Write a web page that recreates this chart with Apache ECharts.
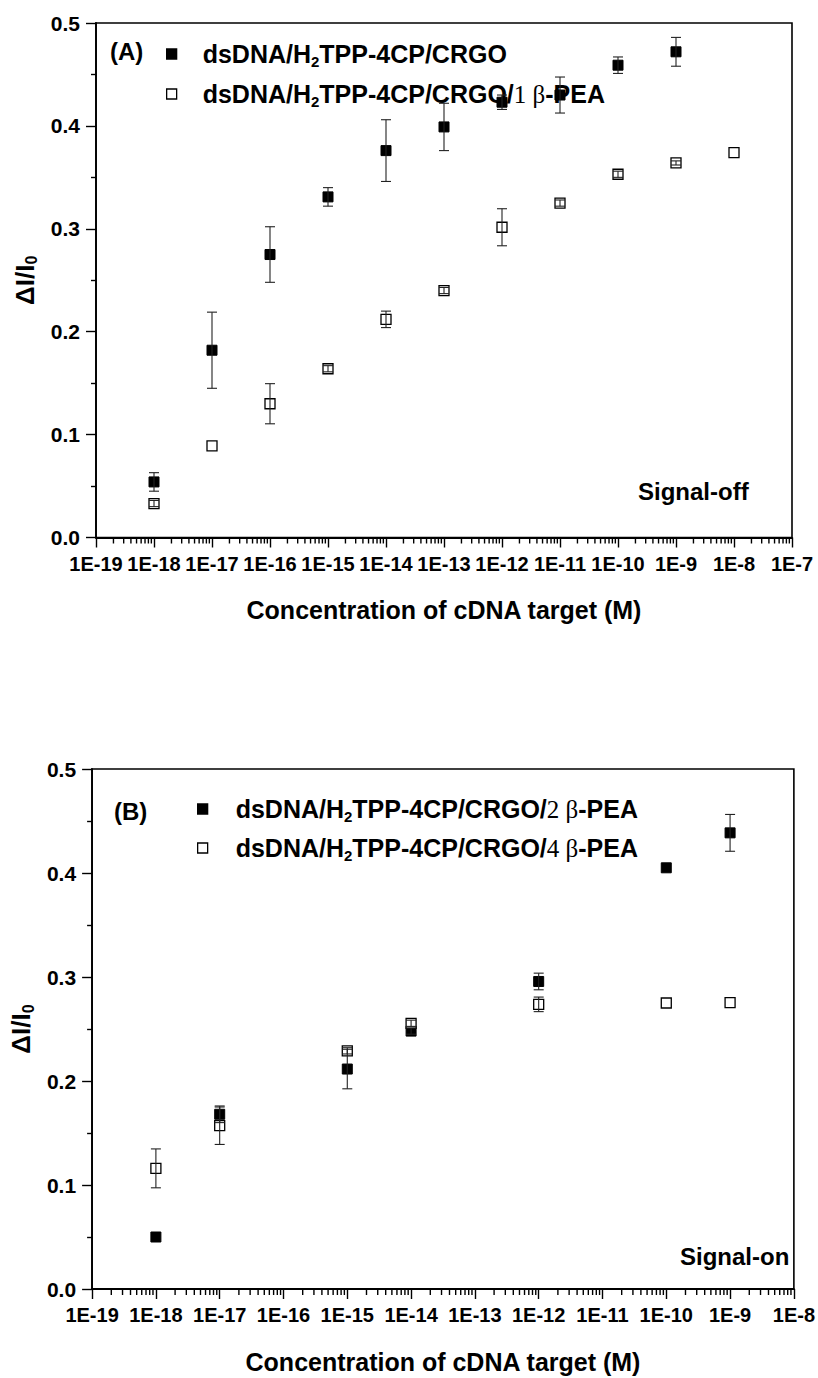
<!DOCTYPE html>
<html><head><meta charset="utf-8">
<script src="https://cdn.jsdelivr.net/npm/echarts@6/dist/echarts.min.js"></script>
<style>html,body{margin:0;padding:0;background:#fff}#c{width:818px;height:1378px}</style>
</head><body><div id="c"></div>
<script>
// ---------- data ----------
const xTitle = 'Concentration of cDNA target (M)';
const yTickLabels = ['0.0', '0.1', '0.2', '0.3', '0.4', '0.5'];
const xTickLabelsA = ['1E-19','1E-18','1E-17','1E-16','1E-15','1E-14','1E-13','1E-12','1E-11','1E-10','1E-9','1E-8','1E-7'];
const xTickLabelsB = ['1E-19','1E-18','1E-17','1E-16','1E-15','1E-14','1E-13','1E-12','1E-11','1E-10','1E-9','1E-8'];

const seriesNameA1 = 'dsDNA/H2TPP-4CP/CRGO';
const seriesNameA2 = 'dsDNA/H2TPP-4CP/CRGO/1 β-PEA';
const seriesNameB1 = 'dsDNA/H2TPP-4CP/CRGO/2 β-PEA';
const seriesNameB2 = 'dsDNA/H2TPP-4CP/CRGO/4 β-PEA';

// Panel A (signal-off)
const concA1 = [1e-18, 1e-17, 1e-16, 1e-15, 1e-14, 1e-13, 1e-12, 1e-11, 1e-10, 1e-9];
const valA1  = [0.054, 0.182, 0.275, 0.331, 0.376, 0.399, 0.423, 0.430, 0.459, 0.472];
const errA1  = [0.009, 0.037, 0.027, 0.009, 0.030, 0.023, 0.007, 0.0175, 0.008, 0.014];
const concA2 = [1e-18, 1e-17, 1e-16, 1e-15, 1e-14, 1e-13, 1e-12, 1e-11, 1e-10, 1e-9, 1e-8];
const valA2  = [0.033, 0.089, 0.130, 0.164, 0.212, 0.240, 0.3015, 0.325, 0.353, 0.364, 0.374];
const errA2  = [0.003, 0, 0.0195, 0.003, 0.008, 0.003, 0.018, 0.003, 0.003, 0.002, 0];

// Panel B (signal-on)
const concB1 = [1e-18, 1e-17, 1e-15, 1e-14, 1e-12, 1e-10, 1e-9];
const valB1  = [0.050, 0.168, 0.2115, 0.248, 0.2957, 0.405, 0.4386];
const errB1  = [0, 0.008, 0.019, 0.003, 0.008, 0, 0.0177];
const concB2 = [1e-18, 1e-17, 1e-15, 1e-14, 1e-12, 1e-10, 1e-9];
const valB2  = [0.116, 0.157, 0.229, 0.2555, 0.2737, 0.275, 0.2753];
const errB2  = [0.0187, 0.018, 0.003, 0.003, 0.007, 0, 0];

// ---------- chart ----------
const FONT = 'Liberation Sans';
const SERIF = 'Liberation Serif';
const chart = echarts.init(document.getElementById('c'), null, {renderer: 'svg', width: 818, height: 1378});

function richLegend(sp) {
  return {
    sp: {width: sp},
    b: {fontFamily: FONT, fontWeight: 'bold', fontSize: 25, color: '#000'},
    sub: {fontFamily: FONT, fontWeight: 'bold', fontSize: 15, color: '#000', padding: [14, 0, 0, 0]},
    s: {fontFamily: SERIF, fontWeight: 'normal', fontSize: 25, color: '#000'}
  };
}
function legendText(name) {
  const m = name.match(/^dsDNA\/H2TPP-4CP\/CRGO(?:\/(\d) β(-PEA))?$/);
  let s = '{sp| }{b|dsDNA/H}{sub|2}{b|TPP-4CP/CRGO';
  if (m && m[1]) s += '/}{s|' + m[1] + ' β}{b|' + m[2] + '}';
  else s += '}';
  return s;
}

function pairs(xs, ys) { return xs.map((x, i) => [x, ys[i]]); }
function errData(xs, ys, es) {
  const out = [];
  xs.forEach((x, i) => { if (es[i] > 0) out.push([x, ys[i] - es[i], ys[i] + es[i]]); });
  return out;
}
// positions of the logarithmic minor ticks (2..9 x 10^d), axis decoration only
function minorTickValues(minExp, maxExp) {
  const v = [];
  for (let d = minExp; d < maxExp; d++) for (let k = 2; k <= 9; k++) v.push([k * Math.pow(10, d), 0]);
  return v;
}

function makeX(gi, labels, minExp) {
  const n = labels.length - 1;
  return {
    type: 'log', logBase: 10, gridIndex: gi,
    min: Math.pow(10, minExp), max: Math.pow(10, minExp + n),
    interval: 1, splitNumber: n,
    name: xTitle, nameLocation: 'middle', nameGap: 60,
    nameTextStyle: {fontFamily: FONT, fontWeight: 'bold', fontSize: 25, color: '#000'},
    axisLine: {show: true, onZero: false, lineStyle: {color: '#000', width: 1.8}},
    axisTick: {show: true, inside: false, length: 10, lineStyle: {color: '#000', width: 1.4}},
    minorTick: {show: false},
    splitLine: {show: false},
    axisLabel: {
      margin: 16, fontFamily: FONT, fontWeight: 'bold', fontSize: 20, color: '#000',
      showMinLabel: true, showMaxLabel: true, hideOverlap: false,
      formatter: v => labels[Math.round(Math.log10(v)) - minExp] || ''
    }
  };
}
function makeY(gi) {
  return {
    type: 'value', gridIndex: gi, min: 0, max: 0.5, interval: 0.1,
    name: '{a|ΔI/I}{s|0}', nameLocation: 'middle', nameGap: 52, nameRotate: 90,
    nameTextStyle: {rich: {
      a: {fontFamily: FONT, fontWeight: 'bold', fontSize: 26, color: '#000'},
      s: {fontFamily: FONT, fontWeight: 'bold', fontSize: 16, color: '#000', padding: [14, 0, 0, 0]}
    }},
    axisLine: {show: true, onZero: false, lineStyle: {color: '#000', width: 1.8}},
    axisTick: {show: true, inside: false, length: 10, lineStyle: {color: '#000', width: 1.4}},
    minorTick: {show: true, splitNumber: 2, length: 5, lineStyle: {color: '#000', width: 1.4}},
    splitLine: {show: false},
    axisLabel: {margin: 16, fontFamily: FONT, fontWeight: 'bold', fontSize: 21, color: '#000',
      formatter: v => yTickLabels[Math.round(v * 10)]}
  };
}

const filledStyle = {color: '#000', borderColor: '#000', borderWidth: 1, opacity: 1};
const openStyle = {color: '#fff', borderColor: '#000', borderWidth: 1.3, opacity: 1};

function scatter(name, gi, data, style, z) {
  return {type: 'scatter', name, xAxisIndex: gi, yAxisIndex: gi, data, symbol: 'rect', symbolSize: 10,
    itemStyle: style, z, emphasis: {disabled: true}, silent: true};
}
function errSeries(gi, data, z) {
  return {type: 'custom', xAxisIndex: gi, yAxisIndex: gi, data, z, silent: true, clip: false,
    renderItem: (params, api) => {
      const lo = api.coord([api.value(0), api.value(1)]);
      const hi = api.coord([api.value(0), api.value(2)]);
      const w = 5, st = {stroke: '#222', lineWidth: 1.1};
      return {type: 'group', children: [
        {type: 'line', shape: {x1: hi[0], y1: hi[1], x2: lo[0], y2: lo[1]}, style: st},
        {type: 'line', shape: {x1: hi[0] - w, y1: hi[1], x2: hi[0] + w, y2: hi[1]}, style: st},
        {type: 'line', shape: {x1: lo[0] - w, y1: lo[1], x2: lo[0] + w, y2: lo[1]}, style: st}
      ]};
    }};
}
function minorTickSeries(gi, minExp, maxExp) {
  return {type: 'custom', xAxisIndex: gi, yAxisIndex: gi, data: minorTickValues(minExp, maxExp),
    clip: false, silent: true, z: 8,
    renderItem: (params, api) => {
      const p = api.coord([api.value(0), api.value(1)]);
      return {type: 'rect', shape: {x: p[0] - 0.7, y: p[1], width: 1.4, height: 6}, style: {fill: '#000'}};
    }};
}

const option = {
  animation: false,
  backgroundColor: '#fff',
  grid: [
    {left: 96, top: 23, width: 696, height: 514.5, show: true, borderColor: '#000', borderWidth: 1.6, backgroundColor: 'transparent'},
    {left: 90, top: 769, width: 708, height: 520, show: true, borderColor: '#000', borderWidth: 1.6, backgroundColor: 'transparent'}
  ],
  xAxis: [makeX(0, xTickLabelsA, -19), makeX(1, xTickLabelsB, -19)],
  yAxis: [makeY(0), makeY(1)],
  legend: [
    {data: [seriesNameA1, seriesNameA2], orient: 'vertical', left: 161, top: 34, itemWidth: 10, itemHeight: 10, itemGap: 10,
      selectedMode: false, formatter: legendText, textStyle: {lineHeight: 30, rich: richLegend(21)},
      itemStyle: {borderWidth: 1.3}},
    {data: [seriesNameB1, seriesNameB2], orient: 'vertical', left: 192, top: 789, itemWidth: 10, itemHeight: 10, itemGap: 9,
      selectedMode: false, formatter: legendText, textStyle: {lineHeight: 30, rich: richLegend(23)},
      itemStyle: {borderWidth: 1.3}}
  ],
  graphic: [
    {type: 'text', left: 110, top: 39, style: {text: '(A)', font: 'bold 24px "Liberation Sans"', fill: '#000'}},
    {type: 'text', left: 638, top: 479, style: {text: 'Signal-off', font: 'bold 24px "Liberation Sans"', fill: '#000'}},
    {type: 'text', left: 114, top: 799, style: {text: '(B)', font: 'bold 24px "Liberation Sans"', fill: '#000'}},
    {type: 'text', left: 680, top: 1244, style: {text: 'Signal-on', font: 'bold 24px "Liberation Sans"', fill: '#000'}}
  ],
  series: [
    minorTickSeries(0, -19, -7),
    minorTickSeries(1, -19, -8),
    scatter(seriesNameA1, 0, pairs(concA1, valA1), filledStyle, 3),
    scatter(seriesNameA2, 0, pairs(concA2, valA2), openStyle, 4),
    errSeries(0, errData(concA1, valA1, errA1), 6),
    errSeries(0, errData(concA2, valA2, errA2), 6),
    scatter(seriesNameB1, 1, pairs(concB1, valB1), filledStyle, 3),
    scatter(seriesNameB2, 1, pairs(concB2, valB2), openStyle, 4),
    errSeries(1, errData(concB1, valB1, errB1), 6),
    errSeries(1, errData(concB2, valB2, errB2), 6)
  ]
};
chart.setOption(option);
</script></body></html>
